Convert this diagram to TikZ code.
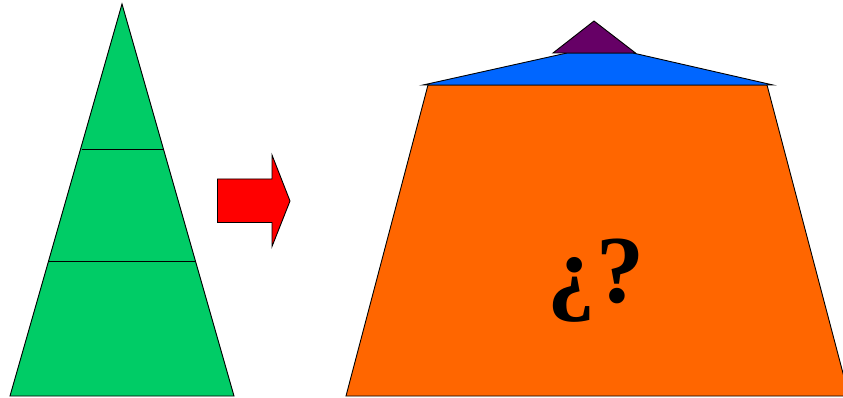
\documentclass[tikz,border=0pt]{standalone}
\usepackage{fontspec}
\setmainfont{Liberation Serif}
\definecolor{tgreen}{HTML}{00CC66}
\definecolor{tred}{HTML}{FF0000}
\definecolor{torange}{HTML}{FF6600}
\definecolor{tblue}{HTML}{0066FF}
\definecolor{tpurple}{HTML}{660066}
\begin{document}
\begin{tikzpicture}[x=1pt,y=-1pt,outlined/.style={draw=black,line width=0.9pt,line join=miter}]
\useasboundingbox (0,0) rectangle (843,398);
\begin{scope}
\clip (0,0) rectangle (843,398);
% green triangle
\filldraw[outlined,fill=tgreen] (122,4) -- (234,396) -- (10,396) -- cycle;
\draw[outlined] (81.5,149) -- (163,149);
\draw[outlined] (49,261) -- (195,261);
% red arrow
\filldraw[outlined,fill=tred] (217.5,179) -- (272,179) -- (272,155) -- (290,201) -- (272,246.5) -- (272,222.5) -- (217.5,222.5) -- cycle;
% orange trapezoid
\filldraw[outlined,fill=torange] (428,85) -- (767,85) -- (849,396) -- (346,396) -- cycle;
% blue
\filldraw[outlined,fill=tblue] (423,85) -- (567,53) -- (633,53) -- (773,85) -- cycle;
% purple
\filldraw[outlined,fill=tpurple] (594,21) -- (635.5,53) -- (553,53) -- cycle;
\end{scope}
\node[font=\fontsize{96}{96}\selectfont\bfseries] (q) at (596,281) {¿\kern2pt?};
\end{tikzpicture}
\end{document}
